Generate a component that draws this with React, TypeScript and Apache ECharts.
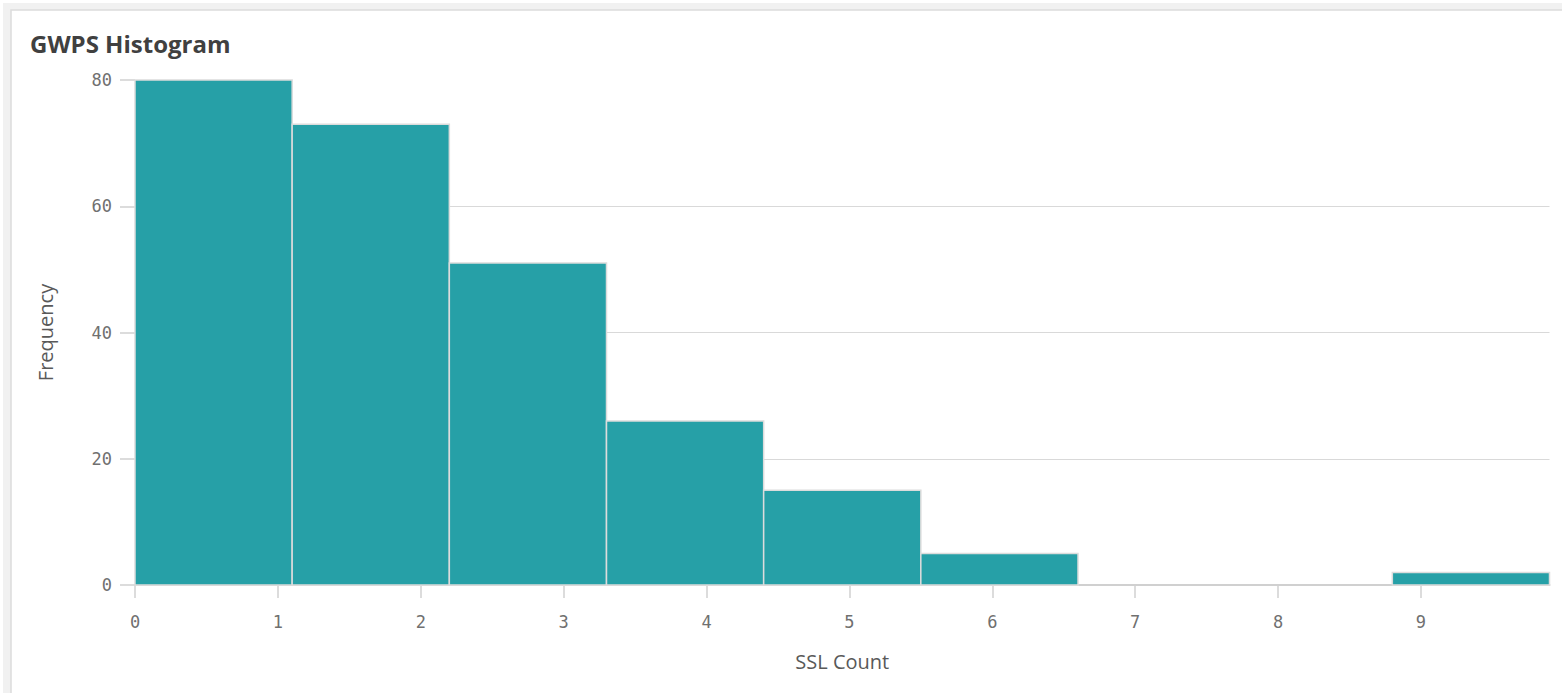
import React, { useEffect, useRef } from "react";
import * as echarts from "echarts";

const binStarts = [0, 1.1, 2.2, 3.3, 4.4, 5.5, 6.6, 7.7, 8.8];
const binEnds = [1.1, 2.2, 3.3, 4.4, 5.5, 6.6, 7.7, 8.8, 9.9];
const frequencies = [80, 73, 51, 26, 15, 5, 0, 0, 2];
const xTicks = [0, 1, 2, 3, 4, 5, 6, 7, 8, 9];
const yTicks = [0, 20, 40, 60, 80];

export default function App() {
  const ref = useRef<HTMLDivElement>(null);
  useEffect(() => {
    if (!ref.current) return;
    const chart = echarts.init(ref.current, undefined, { renderer: "svg" });
    const data = frequencies.map((f, i) => [binStarts[i], binEnds[i], f]);
    const monoFont = "DejaVu Sans Mono";
    chart.setOption({
      animation: false,
      backgroundColor: "#ffffff",
      graphic: [
        { type: "rect", z: -10, shape: { x: 3, y: 3, width: 1562, height: 693 }, style: { fill: "#f1f1f1" }, silent: true },
        { type: "rect", z: -9, shape: { x: 11, y: 10, width: 1560, height: 690 }, style: { fill: "#ffffff", stroke: "#dcdcdc", lineWidth: 1.5 }, silent: true },
      ],
      title: {
        text: "GWPS Histogram",
        left: 30,
        top: 31,
        padding: 0,
        textStyle: { fontFamily: "Open Sans", fontWeight: "bold", fontSize: 24, color: "#404040" },
      },
      grid: { left: 135, right: 12.5, top: 80, bottom: 108, containLabel: false },
      xAxis: {
        type: "value",
        min: 0,
        max: 9.9,
        interval: 1,
        name: "SSL Count",
        nameLocation: "middle",
        nameGap: 66,
        nameTextStyle: { fontFamily: "Open Sans", fontSize: 20, color: "#595959" },
        axisLine: { show: true, lineStyle: { color: "#d0d0d0", width: 2 } },
        axisTick: { show: true, length: 13, lineStyle: { color: "#d0d0d0", width: 1.5 }, customValues: xTicks },
        axisLabel: { margin: 28, fontFamily: monoFont, fontSize: 17, color: "#707070", customValues: xTicks },
        splitLine: { show: false },
      },
      yAxis: {
        type: "value",
        min: 0,
        max: 80,
        interval: 20,
        name: "Frequency",
        nameLocation: "middle",
        nameGap: 80,
        nameRotate: 90,
        nameTextStyle: { fontFamily: "Open Sans", fontSize: 20, color: "#595959" },
        axisLine: { show: false },
        axisTick: { show: true, length: 15, lineStyle: { color: "#d0d0d0", width: 1.5 }, customValues: yTicks },
        axisLabel: { margin: 23, fontFamily: monoFont, fontSize: 17, color: "#707070", customValues: yTicks },
        splitLine: { show: true, showMaxLine: false, showMinLine: false, lineStyle: { color: "#d9d9d9", width: 1 } },
      },
      series: [
        {
          type: "custom",
          data,
          encode: { x: [0, 1], y: 2 },
          renderItem: (params: any, api: any) => {
            const x0 = api.value(0);
            const x1 = api.value(1);
            const v = api.value(2);
            if (!v) return null;
            const p0 = api.coord([x0, v]);
            const p1 = api.coord([x1, 0]);
            return {
              type: "rect",
              shape: { x: p0[0], y: p0[1], width: p1[0] - p0[0], height: p1[1] - p0[1] },
              style: { fill: "#26a0a7", stroke: "#dcdcdc", lineWidth: 1.5 },
            };
          },
        },
      ],
    });
    return () => chart.dispose();
  }, []);
  return <div ref={ref} style={{ position: "fixed", left: 0, top: 0, width: 1562, height: 693 }} />;
}
